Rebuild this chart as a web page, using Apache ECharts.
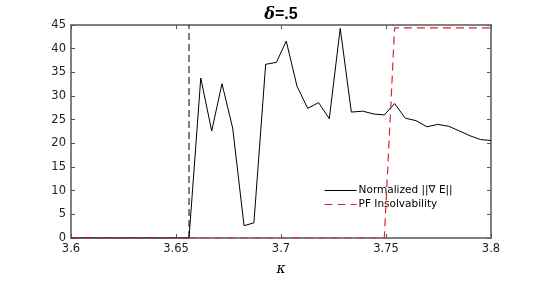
<!DOCTYPE html>
<html>
<head>
<meta charset="utf-8">
<script src="https://cdn.jsdelivr.net/npm/echarts@6/dist/echarts.min.js"></script>
<style>html,body{margin:0;padding:0;background:#fff}#c{width:544px;height:281px}</style>
</head>
<body>
<div id="c"></div>
<script>
var kappaGrad = [3.6, 3.6562, 3.6618, 3.6670, 3.6719, 3.6770, 3.6824, 3.6871, 3.6927, 3.6978, 3.7025, 3.7076, 3.7127, 3.7179, 3.7230, 3.7282, 3.7335, 3.7389, 3.7441, 3.7492, 3.7541, 3.7592, 3.7643, 3.7695, 3.7746, 3.7799, 3.7850, 3.7900, 3.7950, 3.8];
var gradValues = [0, 0, 33.8, 22.6, 32.6, 23.2, 2.6, 3.2, 36.7, 37.1, 41.6, 32.1, 27.4, 28.6, 25.2, 44.3, 26.6, 26.8, 26.2, 26.0, 28.4, 25.3, 24.8, 23.5, 24.0, 23.6, 22.6, 21.6, 20.8, 20.6];
var kappaPF = [3.6, 3.7492, 3.7541, 3.8];
var pfValues = [0, 0, 44.4, 44.4];
var thresholdKappa = 3.6562;
var thresholdRange = [0, 45];
var xTicks = ['3.6', '3.65', '3.7', '3.75', '3.8'];
var yTicks = [0, 5, 10, 15, 20, 25, 30, 35, 40, 45];

var zip = function(a, b){ return a.map(function(v, i){ return [v, b[i]]; }); };
var labelFont = {fontFamily: 'DejaVu Sans', fontSize: 11.5, color: '#222', fontWeight: 'normal'};
var axisLine = {show: true, onZero: false, lineStyle: {color: '#808080', width: 2}};
var tickIn = {show: true, inside: true, length: 4, lineStyle: {color: '#555', width: 1}};

var chart = echarts.init(document.getElementById('c'), null, {renderer: 'canvas'});
chart.setOption({
  animation: false,
  backgroundColor: '#fff',
  title: {
    text: '{d|δ}{b|=.5}',
    left: 276, top: 2, textAlign: 'center',
    textStyle: {rich: {
      d: {fontFamily: 'DejaVu Serif', fontStyle: 'italic', fontSize: 16, fontWeight: 'bold', color: '#000'},
      b: {fontFamily: 'Liberation Sans', fontSize: 16, fontWeight: 'bold', color: '#000'}
    }}
  },
  grid: {left: 71, right: 53, top: 25, bottom: 39, containLabel: false},
  legend: {
    left: 319, top: 180, orient: 'vertical',
    itemWidth: 32, itemHeight: 10, itemGap: 3,
    itemStyle: {opacity: 0},
    lineStyle: {width: 1.2},
    data: ['Normalized ||∇ E||', 'PF Insolvability'],
    textStyle: {fontFamily: 'DejaVu Sans', fontSize: 10.5, color: '#000', padding: [0, 0, 0, -3]}
  },
  xAxis: [{
    type: 'value', min: 3.6, max: 3.8, interval: 0.05,
    axisLine: axisLine, axisTick: tickIn, splitLine: {show: false},
    axisLabel: Object.assign({margin: 5, formatter: function(v){ var s = (Math.round(v*100)/100).toString(); return xTicks.indexOf(s) >= 0 ? s : ''; }}, labelFont),
    name: 'κ', nameLocation: 'middle', nameGap: 24,
    nameTextStyle: {fontFamily: 'DejaVu Serif', fontStyle: 'italic', fontSize: 14, color: '#000'}
  }, {
    type: 'value', position: 'top', min: 3.6, max: 3.8, interval: 0.05,
    axisLine: axisLine, axisTick: tickIn, axisLabel: {show: false}, splitLine: {show: false}
  }],
  yAxis: [{
    type: 'value', min: 0, max: 45, interval: 5,
    axisLine: axisLine, axisTick: tickIn, splitLine: {show: false},
    axisLabel: Object.assign({margin: 5, formatter: function(v){ return yTicks.indexOf(v) >= 0 ? String(v) : ''; }}, labelFont)
  }, {
    type: 'value', position: 'right', min: 0, max: 45, interval: 5,
    axisLine: axisLine, axisTick: tickIn, axisLabel: {show: false}, splitLine: {show: false}
  }],
  series: [{
    name: 'Normalized ||∇ E||', type: 'line', data: zip(kappaGrad, gradValues),
    showSymbol: false, symbol: 'none',
    lineStyle: {color: '#000', width: 1}, itemStyle: {color: '#000'},
    z: 3
  }, {
    name: 'threshold', type: 'line', data: [[thresholdKappa, thresholdRange[0]], [thresholdKappa, thresholdRange[1]]],
    showSymbol: false, symbol: 'none',
    lineStyle: {color: '#000', width: 1, type: [7, 4]}, itemStyle: {color: '#000'},
    z: 3
  }, {
    name: 'PF Insolvability', type: 'line', data: zip(kappaPF, pfValues),
    showSymbol: false, symbol: 'none',
    lineStyle: {color: '#d9252b', width: 1.2, type: [8, 5]}, itemStyle: {color: '#d9252b'},
    z: 4
  }]
});
</script>
</body>
</html>
